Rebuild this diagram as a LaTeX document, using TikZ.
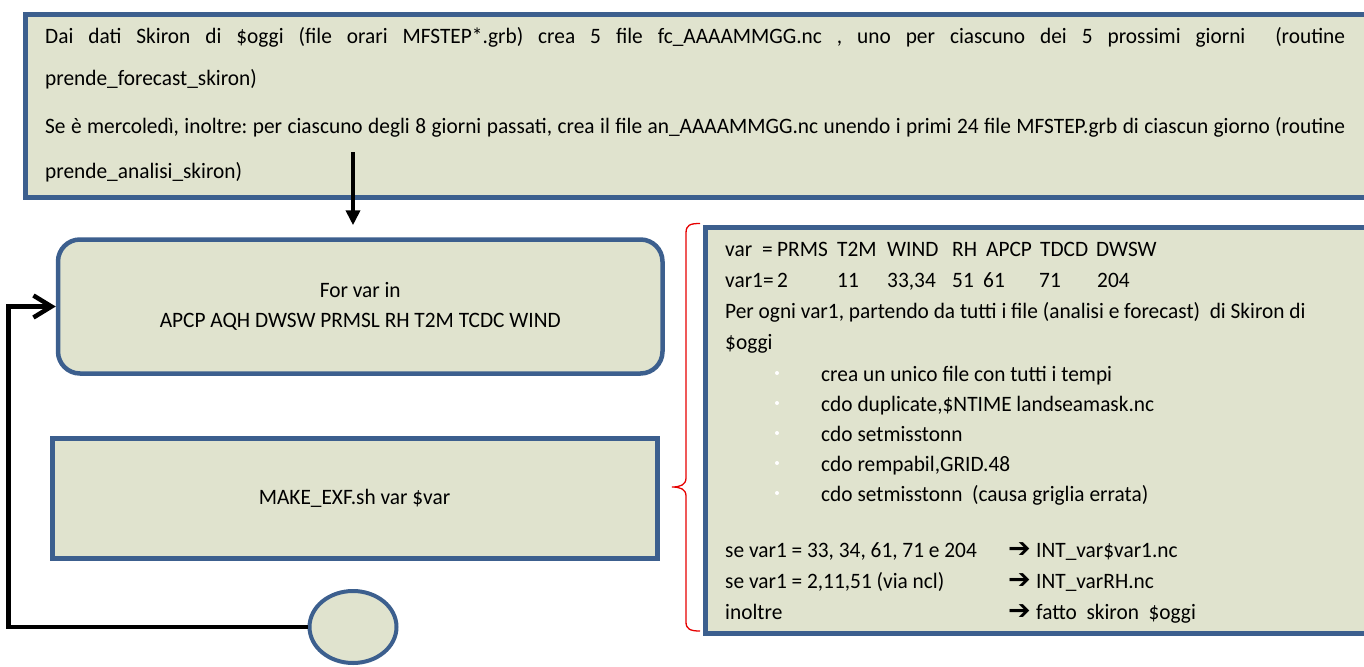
\documentclass[tikz,border=0pt]{standalone}
\usepackage{fontspec}
\setmainfont{Carlito}[FakeStretch=0.97]
\newfontfamily\symfont{DejaVu Sans}
\usetikzlibrary{
  arrows.meta,
  positioning,
  shapes.geometric,
  calc
}
\definecolor{boxfill}{RGB}{224, 227, 206}
\definecolor{boxborder}{RGB}{60, 95, 142}
\definecolor{bracecolor}{RGB}{230, 0, 0}
\tikzset{
blocktext/.style={
  font=\fontsize{22}{30}\selectfont,
  text=black
},
plainblock/.style={
  draw=boxborder,
  line width=5pt,
  fill=boxfill,
  inner sep=0pt,
  blocktext
},
loopblock/.style={
  plainblock,
  line width=4.5pt,
  rounded corners=22pt
},
endblock/.style={
  ellipse,
  draw=boxborder,
  line width=4pt,
  fill=boxfill,
  inner sep=0pt
},
linetext/.style={
  blocktext,
  inner sep=0pt,
  anchor=base west
},
bulletdot/.style={
  circle,
  fill=white,
  inner sep=0pt,
  minimum size=4pt
},
arrowsign/.style={
  linetext,
  font=\fontsize{27}{28}\symfont\bfseries
},
arrow/.style={
  -{Triangle[length=15pt,width=14pt]},
  line width=4pt,
  draw=black
},
looparrow/.style={
  -{Straight Barb[length=18pt,width=22pt]},
  line width=4.5pt,
  draw=black
},
bracemark/.style={
  draw=bracecolor,
  line width=1.3pt
}
}

\begin{document}
\frenchspacing
\begin{tikzpicture}[x=1pt, y=-1pt]
  \useasboundingbox (0,0) rectangle (1364,666);

  % top box
  \node[plainblock, anchor=north west, minimum width=1400pt, minimum height=182pt]
    (intro) at (22.5,12.5) {};
  \node[linetext] (introa) at (45,44)
    {\makebox[1300pt][s]{Dai dati Skiron di \$oggi (file orari MFSTEP*.grb) crea 5 file fc\_AAAAMMGG.nc , uno per ciascuno dei 5 prossimi giorni \ (routine}};
  \node[linetext] (introb) at (45,86) {prende\_forecast\_skiron)};
  \node[linetext] (introc) at (45,133)
    {\makebox[1300pt][s]{Se è mercoledì, inoltre: per ciascuno degli 8 giorni passati, crea il file an\_AAAAMMGG.nc unendo i primi 24 file MFSTEP.grb di ciascun giorno (routine}};
  \node[linetext] (introd) at (45,178) {prende\_analisi\_skiron)};

  % loop
  \node[loopblock, minimum width=604.5pt, minimum height=134pt, align=center]
    (forloop) at (360.25,306.5) {For var in\\APCP AQH DWSW PRMSL RH T2M TCDC WIND};
  \node[plainblock, minimum width=605pt, minimum height=120pt]
    (makeexf) at (354.5,498.5) {MAKE\_EXF.sh var \$var};
  \node[endblock, minimum width=87pt, minimum height=72pt] (loopend) at (353,627) {};

  \coordinate (arrowtop) at (353,152);
  \draw[arrow, shorten >=12pt] (arrowtop) -- (arrowtop |- forloop.north);
  \draw[looparrow] (loopend.west) -- ++(-299,0) |- (forloop.west);

  % detail box
  \node[plainblock, anchor=north west, minimum width=700pt, minimum height=406pt]
    (detail) at (703,224.5) {};
  \draw[bracemark] (700,223.5) .. controls (690,223.5) and (686,225) .. (686,233)
    -- (686,478) .. controls (686,485) and (680,487) .. (672,487)
    .. controls (680,487) and (686,489) .. (686,496)
    -- (686,622) .. controls (686,629) and (690,631) .. (700,631);

  \begin{scope}
    \clip (detail.north west) rectangle ([yshift=9.5pt]detail.south east);
    \node[linetext] (varname) at (725,256) {var};
    \node[linetext] at (762,256) {=};
    \node[linetext] (varnum) at (725,287) {var1=};
    \foreach \vname/\vnum/\xx/\nx in {PRMS/2/777/777, T2M/11/837/837, WIND/{33,34}/887/887,
        RH/51/952/952, APCP/61/986/983, TDCD/71/1040/1039, DWSW/204/1096/1097} {
      \node[linetext] at (\xx,256) {\vname};
      \node[linetext] at (\nx,287) {\vnum};
    }
    \node[linetext] (source) at (725,318)
      {Per ogni var1, partendo da tutti i file (analisi e forecast)~ di Skiron di};
    \node[linetext] (sourceb) at (725,349) {\$oggi};
    \foreach \stepname [count=\i] in {crea un unico file con tutti i tempi,
        {cdo duplicate,\$NTIME landseamask.nc}, cdo setmisstonn,
        {cdo rempabil,GRID.48}, {cdo setmisstonn~ (causa griglia errata)}} {
      \node[bulletdot] at (777,{373+30*(\i-1)}) {};
      \node[linetext] at (821,{381+30*(\i-1)}) {\stepname};
    }
    \foreach \cond/\result [count=\i] in {{se var1 = 33, 34, 61, 71 e 204}/{INT\_var\$var1.nc},
        {se var1 = 2,11,51 (via ncl)}/{INT\_varRH.nc}, inoltre/{fatto~ skiron~ \$oggi}} {
      \node[linetext] at (725,{557+31*(\i-1)}) {\cond};
      \node[arrowsign] at (1008,{557+31*(\i-1)}) {➔};
      \node[linetext] at (1036,{557+31*(\i-1)}) {\result};
    }
  \end{scope}
\end{tikzpicture}
\end{document}
